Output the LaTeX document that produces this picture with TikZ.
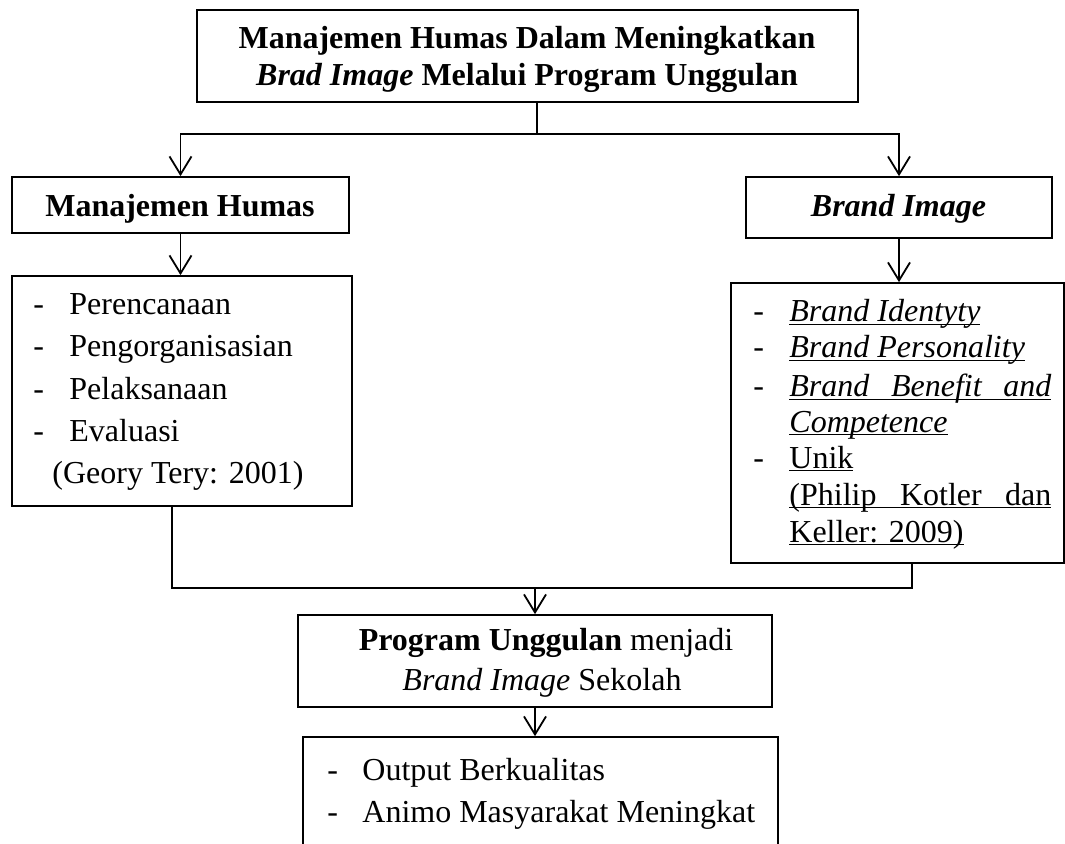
\documentclass[tikz,border=0pt]{standalone}
\usepackage{fontspec}
\setmainfont{Liberation Serif}
\usetikzlibrary{arrows.meta}
% underline at a fixed depth below the baseline, crossing descenders
\newsavebox\ulbox
\newcommand\ulword[1]{\sbox\ulbox{#1}\rlap{\rule[-1.6pt]{\wd\ulbox}{0.75pt}}\usebox\ulbox}
% a line spread to a full justified width
\newcommand\spreadline[2]{\makebox[#1][s]{#2}}
\begin{document}
\begin{tikzpicture}[x=0.5pt,y=-0.5pt,
  frame/.style={draw, line width=0.85pt, inner sep=0pt, rectangle},
  txt/.style={inner sep=0pt, font=\fontsize{16}{19}\selectfont},
  link/.style={line width=0.9pt},
  arr/.style={link, -{Straight Barb[length=9pt,width=11pt,line width=0.9pt]}}]
\useasboundingbox (0,0) rectangle (1065,844);
\clip (0,0) rectangle (1065,844);

% boxes
\node[frame, minimum width=330.5pt, minimum height=46pt]   (top)  at (527.5,56) {};
\node[frame, minimum width=168.5pt, minimum height=28pt]   (mh)   at (180.5,205) {};
\node[frame, minimum width=153pt,   minimum height=30.5pt] (bi)   at (899,207.5) {};
\node[frame, minimum width=170pt,   minimum height=115pt]  (ll)   at (182,391) {};
\node[frame, minimum width=166.5pt, minimum height=140pt]  (rl)   at (897.5,423) {};
\node[frame, minimum width=237pt,   minimum height=46pt]   (prog) at (535,661) {};
\node[frame, minimum width=237.5pt, minimum height=75pt]   (bot)  at (540.5,812) {};

% title
\node[txt, anchor=base] (t1) at (527,49) {\bfseries Manajemen Humas Dalam Meningkatkan};
\node[txt, anchor=base] (t2) at (527,86) {\bfseries\itshape Brad Image\/ \upshape Melalui Program Unggulan};

% branch headings
\node[txt, anchor=base] (mht) at (180,217) {\bfseries Manajemen Humas};
\node[txt, anchor=base] (bit) at (898.5,217) {\bfseries\itshape Brand Image};

% management functions
\foreach \y/\w [count=\i] in {315/Perencanaan, 357/Pengorganisasian, 400/Pelaksanaan, 442/Evaluasi} {
  \node[txt, anchor=base west] (ld\i) at (33,\y) {-};
  \node[txt, anchor=base west] (lt\i) at (69,\y) {\w};
}
\node[txt, anchor=base west] (lsrc) at (52,483) {(Geory Tery: 2001)};

% brand image dimensions
\node[txt, anchor=base west] (rd1) at (753,322) {-};
\node[txt, anchor=base west] (rt1) at (789,322) {\ulword{\itshape Brand Identyty}};
\node[txt, anchor=base west] (rd2) at (753,358) {-};
\node[txt, anchor=base west] (rt2) at (789,358) {\ulword{\itshape Brand Personality}};
\node[txt, anchor=base west] (rd3) at (753,397) {-};
\node[txt, anchor=base west] (rt3) at (789,397) {\ulword{\spreadline{131pt}{\itshape Brand Benefit and}}};
\node[txt, anchor=base west] (rt4) at (789,432) {\ulword{\itshape Competence}};
\node[txt, anchor=base west] (rd5) at (753,468) {-};
\node[txt, anchor=base west] (rt5) at (789,468) {\ulword{Unik}};
\node[txt, anchor=base west] (rt6) at (789,505) {\ulword{\spreadline{131pt}{(Philip Kotler dan}}};
\node[txt, anchor=base west] (rt7) at (789,542) {\ulword{Keller: 2009)}};

% result
\node[txt, anchor=base] (p1) at (546,650) {\bfseries Program Unggulan \mdseries menjadi};
\node[txt, anchor=base] (p2) at (542,690) {\itshape Brand Image\/ \upshape Sekolah};

% outcomes
\node[txt, anchor=base west] (bd1) at (327,780) {-};
\node[txt, anchor=base west] (bt1) at (362,780) {Output Berkualitas};
\node[txt, anchor=base west] (bd2) at (327,822) {-};
\node[txt, anchor=base west] (bt2) at (362,822) {Animo Masyarakat Meningkat};

% connectors
\coordinate (split) at (537,134);
\draw[link] (split |- top.south) -- (split);
\draw[arr] (split) -| (mh.north);
\draw[arr] (split) -| (bi.north);
\draw[arr] (mh.south) -- (mh.south |- ll.north);
\draw[arr] (bi.south) -- (bi.south |- rl.north);
\coordinate (jl) at (172,588);
\coordinate (jr) at (912,588);
\draw[link] (jl |- ll.south) -- (jl) -- (jr) -- (jr |- rl.south);
\draw[arr] (prog.north |- jl) -- (prog.north);
\draw[arr] (prog.south) -- (prog.south |- bot.north);
\end{tikzpicture}
\end{document}
